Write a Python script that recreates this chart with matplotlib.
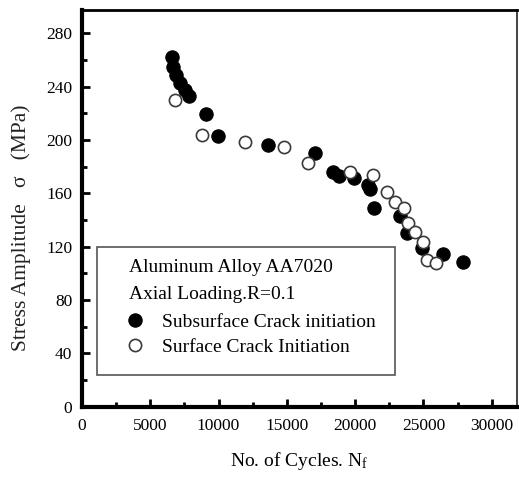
import matplotlib
matplotlib.use("Agg")
import matplotlib.pyplot as plt
from matplotlib.patches import Rectangle
from matplotlib.ticker import MultipleLocator

plt.rcParams['font.family'] = ['Liberation Serif', 'DejaVu Serif']
plt.rcParams['mathtext.fontset'] = 'custom'
plt.rcParams['mathtext.rm'] = 'Liberation Serif'
plt.rcParams['mathtext.it'] = 'Liberation Serif:italic'

# Subsurface crack initiation (filled)
sub_cycles = [6610, 6690, 6880, 7180, 7540, 7860, 9080, 9980, 13640, 17060,
              18400, 18840, 19920, 20960, 21090, 21380, 23290, 23780, 24870,
              26410, 27920]
sub_stress = [262, 255, 248.7, 242.5, 237.5, 233, 219.5, 203, 196.2, 190.5,
              176.2, 173, 171.3, 166.2, 163, 148.8, 143, 130, 118.8, 114.5,
              108.7]

# Surface crack initiation (open)
surf_cycles = [6810, 8770, 11940, 14790, 16570, 19620, 21290, 22360, 22920,
               23580, 23890, 24380, 24950, 25240, 25920]
surf_stress = [230, 203.6, 198.7, 194.5, 183, 176.2, 173.7, 161.2, 153.7,
               148.8, 137.5, 131.2, 123.7, 110, 108]

xlabel = "No. of Cycles. N$_\\mathrm{f}$"
ylabel = "Stress Amplitude   \u03c3   (MPa)"
header = ["Aluminum Alloy AA7020", "Axial Loading.R=0.1"]
labels = ["Subsurface Crack initiation", "Surface Crack Initiation"]

fig = plt.figure(figsize=(5.19, 4.79), dpi=100)
ax = fig.add_axes([82/519, 1-406.7/479, 435/519, 396.7/479])

l1, = ax.plot(sub_cycles, sub_stress, 'o', ms=9.6, mfc='black', mec='black',
              mew=0.8, ls='none', label=labels[0], zorder=3)
l2, = ax.plot(surf_cycles, surf_stress, 'o', ms=8.8, mfc='white', mec='#3a3a3a',
              mew=1.2, ls='none', label=labels[1], zorder=4)

ax.set_xlim(0, 31850)
ax.set_ylim(0, 297.5)
ax.xaxis.set_major_locator(MultipleLocator(5000))
ax.xaxis.set_minor_locator(MultipleLocator(2500))
ax.yaxis.set_major_locator(MultipleLocator(40))
ax.yaxis.set_minor_locator(MultipleLocator(20))
ax.tick_params(which='both', direction='in', top=False, right=False)
ax.tick_params(which='major', length=6, width=2, labelsize=12.5)
ax.tick_params(which='minor', length=3.5, width=2)
ax.tick_params(axis='x', pad=8)
ax.tick_params(axis='y', pad=7)

for side, lw in [('left', 3), ('bottom', 3), ('top', 2), ('right', 1.3)]:
    ax.spines[side].set_linewidth(lw)
ax.spines['right'].set_color('#333333')

ax.set_xlabel(xlabel, fontsize=14, labelpad=12)
ax.set_ylabel(ylabel, fontsize=15.5, color='#222222')
ax.yaxis.set_label_coords(-0.118, 0.45)

# legend box and header text
ax.add_patch(Rectangle((0.0338, 0.0799), 0.6857, 0.3219, transform=ax.transAxes,
                       fill=False, edgecolor='#555555', lw=1.2, zorder=5))
ax.text(0.108, 0.352, header[0], transform=ax.transAxes, fontsize=14,
        va='center', ha='left', zorder=6)
ax.text(0.108, 0.284, header[1], transform=ax.transAxes, fontsize=14,
        va='center', ha='left', zorder=6)
ax.legend(handles=[l1, l2], loc='center left', bbox_to_anchor=(0.0995, 0.1822),
          frameon=False, fontsize=14, handlelength=1.0, handletextpad=0.9,
          borderpad=0, borderaxespad=0, labelspacing=0.38, numpoints=1)

fig.savefig("out.png", dpi=100)
